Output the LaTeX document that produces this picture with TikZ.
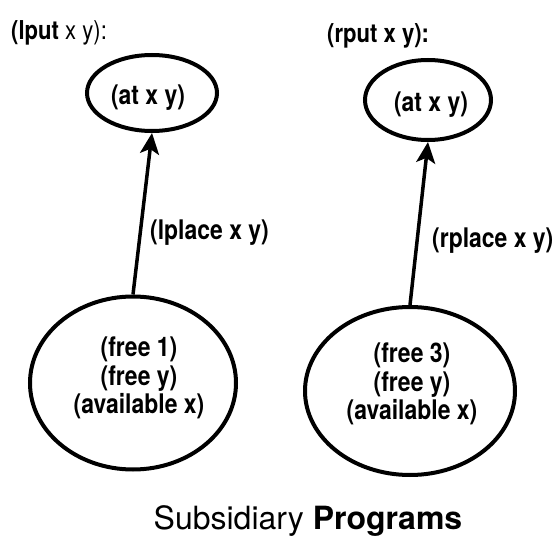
\documentclass[tikz,border=0pt]{standalone}
\usepackage{fontspec}
\setmainfont{TeX Gyre Heros}
\newfontfamily\nodefont{TeX Gyre Heros}[FakeStretch=0.85]
\usetikzlibrary{shapes.geometric,arrows.meta}
\tikzset{
  oval/.style={ellipse, draw, line width=4pt, inner sep=0pt},
  txt/.style={font=\nodefont\bfseries\fontsize{27}{28.5}\selectfont, align=center, inner sep=0pt},
  conn/.style={line width=3.5pt, -{Stealth[length=21pt,width=19pt,inset=5pt]}},
  hdr/.style={font=\nodefont\fontsize{26}{28}\selectfont, inner sep=0pt, anchor=west}
}
\begin{document}
\begin{tikzpicture}[x=1pt,y=-1pt]
\useasboundingbox (0,0) rectangle (557,545);
% headers
\node[hdr] (h1) at (11,33) {\textbf{(lput} x y):};
\node[hdr] (h2) at (327,36) {\textbf{(rput x y):}};
% top ellipses
\node[oval, minimum width=130pt, minimum height=76pt] (t1) at (152,93) {};
\node[txt] (t1l) at (148,98) {(at x y)};
\node[oval, minimum width=126pt, minimum height=80pt] (t2) at (428,100) {};
\node[txt] (t2l) at (431,105) {(at x y)};
% bottom ellipses
\node[oval, minimum width=206pt, minimum height=173pt] (b1) at (133,383) {};
\node[txt] (b1l) at (139,378) {(free 1)\\(free y)\\(available x)};
\node[oval, minimum width=210pt, minimum height=168pt] (b2) at (410,391) {};
\node[txt] (b2l) at (412,384) {(free 3)\\(free y)\\(available x)};
% connectors
\draw[conn] (b1.north) -- (t1.south);
\draw[conn] (b2.north) -- (t2.south);
\node[txt, anchor=west] (e1) at (150,233) {(lplace x y)};
\node[txt, anchor=west] (e2) at (432,241) {(rplace x y)};
% caption
\node[font=\fontsize{32}{36}\selectfont, inner sep=0pt] (cap) at (308,521) {Subsidiary \textbf{Programs}};
\end{tikzpicture}
\end{document}
